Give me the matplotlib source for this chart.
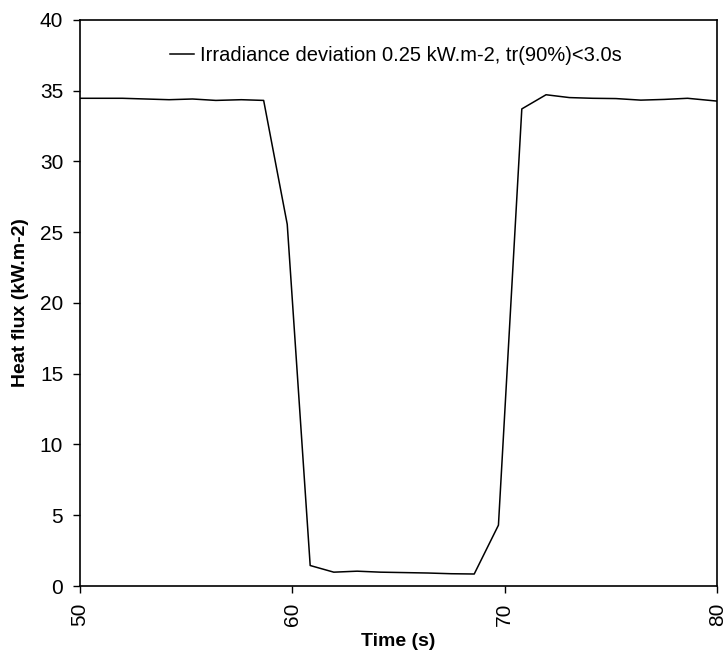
import matplotlib
matplotlib.use("Agg")
import matplotlib.pyplot as plt

plt.rcParams['font.family'] = ['Liberation Sans', 'DejaVu Sans']

# Heat flux trace during the irradiance step (sampled every ~1.1 s)
time_s = [50.0, 50.95, 52.0, 53.1, 54.2, 55.3, 56.4, 57.6, 58.65, 59.76,
          60.84, 61.95, 63.05, 64.15, 65.28, 66.38, 67.47, 68.56, 69.7, 70.8,
          71.94, 73.04, 74.13, 75.23, 76.4, 77.5, 78.6, 80.0]
heat_flux = [34.45, 34.45, 34.45, 34.4, 34.35, 34.4, 34.3, 34.35, 34.3, 25.55,
             1.45, 0.98, 1.05, 0.98, 0.95, 0.92, 0.87, 0.85, 4.3, 33.7,
             34.7, 34.5, 34.45, 34.43, 34.32, 34.37, 34.45, 34.25]
series_label = "Irradiance deviation 0.25 kW.m-2, tr(90%)<3.0s"

x_ticks = [50, 60, 70, 80]
y_ticks = [0, 5, 10, 15, 20, 25, 30, 35, 40]

fig = plt.figure(figsize=(7.26, 6.57), dpi=100)
ax = fig.add_axes([0.110, 0.108, 0.878, 0.862])

ax.plot(time_s, heat_flux, color='black', linewidth=1.1, label=series_label)

ax.set_xlim(50, 80)
ax.set_ylim(0, 40)
ax.set_xticks(x_ticks)
ax.set_yticks(y_ticks)
ax.tick_params(axis='both', direction='out', length=5, width=1,
               labelsize=15, pad=7)
ax.tick_params(axis='x', labelrotation=90)
for sp in ax.spines.values():
    sp.set_linewidth(1.2)

ax.set_xlabel('Time (s)', fontsize=14, fontweight='bold', labelpad=5)
ax.set_ylabel('Heat flux (kW.m-2)', fontsize=14, fontweight='bold', labelpad=8)

ax.legend(loc='center left', bbox_to_anchor=(0.141, 0.936), frameon=False,
          fontsize=14.5, handlelength=1.2, handletextpad=0.3,
          borderpad=0, borderaxespad=0)

plt.savefig('out.png', dpi=100)
